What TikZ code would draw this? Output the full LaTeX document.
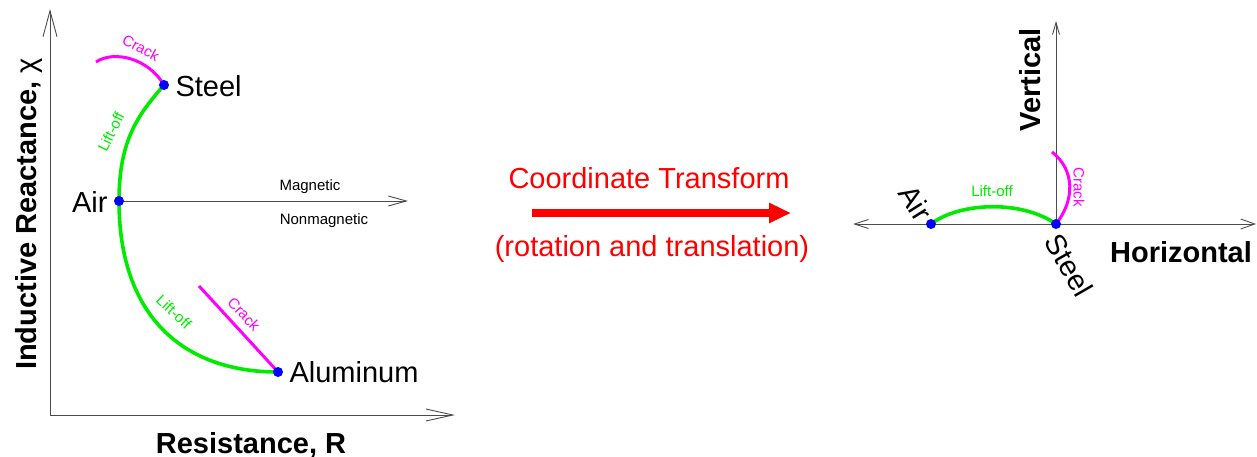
\documentclass[tikz,border=0pt]{standalone}
\usepackage{fontspec}
\setmainfont{Liberation Sans}
\usetikzlibrary{arrows.meta}
\definecolor{lgreen}{RGB}{0,235,0}
\definecolor{lmag}{RGB}{255,0,255}
\tikzset{
  axis/.style={draw=black!70, line width=0.9pt},
  big/.style={font=\fontsize{29}{34}\selectfont},
  bigb/.style={font=\fontsize{29}{34}\selectfont\bfseries},
  small/.style={font=\fontsize{15}{18}\selectfont},
  dot/.style={circle, fill=blue, inner sep=0pt, minimum size=10pt},
  lift/.style={draw=lgreen, line width=3.6pt},
  crack/.style={draw=lmag, line width=3pt},
}
\begin{document}
\begin{tikzpicture}[x=1pt,y=-1pt]
\useasboundingbox (0,0) rectangle (1257,457);
% ---------- left diagram ----------
\coordinate (O) at (50,415);
\coordinate (Ytip) at (50,9);
\coordinate (Xtip) at (455,415);
\draw[axis, -{Straight Barb[length=26pt,width=14pt]}] (O) -- (Ytip);
\draw[axis, -{Straight Barb[length=27pt,width=12pt]}] (O) -- (Xtip);

\coordinate (air) at (119,201);
\coordinate (steel) at (164,85);
\coordinate (alu) at (278,372);
\coordinate (crackTop) at (96,62);
\coordinate (crackLow) at (199,286);
\coordinate (magTip) at (408,201);

\draw[axis, -{Straight Barb[length=18pt,width=10pt]}] (air) -- (magTip);
\draw[lift] (air) .. controls (119,140) and (138,115) .. (steel);
\draw[lift] (air) .. controls (119,316) and (183,372) .. (alu);
\draw[crack] (steel) .. controls (148,58) and (114,50) .. (crackTop);
\draw[crack] (alu) -- (crackLow);

\node[dot] (airdot) at (air) {};
\node[dot] (steeldot) at (steel) {};
\node[dot] (aludot) at (alu) {};

\node[big, anchor=base east] (airlbl) at (111,212) {Air};
\node[big, anchor=base west] (steellbl) at (172,97) {Steel};
\node[big, anchor=base west] (alulbl) at (286,382) {Aluminum};
\node[small, anchor=base] (mag) at (310,190) {Magnetic};
\node[small, anchor=base] (nonmag) at (324,224) {Nonmagnetic};
\node[small, text=lmag, rotate=-28] (crack1) at (141,48) {Crack};
\node[small, text=lgreen, rotate=64] (lift1) at (111,132) {Lift-off};
\node[small, text=lgreen, rotate=-43] (lift2) at (174,312) {Lift-off};
\node[small, text=lmag, rotate=-47] (crack2) at (244,314) {Crack};

\node[bigb, rotate=90, anchor=base] (ylbl) at (36,214) {Inductive Reactance, {\mdseries χ}};
\node[bigb, anchor=base] (xlbl) at (251,453) {Resistance, R};

% ---------- middle ----------
\node[big, text=red, anchor=base] (ct) at (649,189) {Coordinate Transform};
\node[big, text=red, anchor=base] (rt) at (652,256) {(rotation and translation)};
\coordinate (arrS) at (532,213);
\coordinate (arrE) at (791,213);
\draw[red, line width=8pt, -{Triangle[length=22pt,width=19pt]}] (arrS) -- (arrE);

% ---------- right diagram ----------
\coordinate (hL) at (853,224);
\coordinate (hR) at (1256,224);
\coordinate (vO) at (1056,224);
\coordinate (vT) at (1056,21);
\draw[axis, {Straight Barb[length=14pt,width=9pt]}-{Straight Barb[length=14pt,width=10pt]}] (hL) -- (hR);
\draw[axis, -{Straight Barb[length=12pt,width=7pt]}] (vO) -- (vT);

\coordinate (air2) at (931,224);
\coordinate (steel2) at (1056,224);
\coordinate (crack2end) at (1052,152);
\draw[lift] (air2) .. controls (958,203) and (1020,199) .. (steel2);
\draw[crack] (steel2) .. controls (1075,200) and (1075,170) .. (crack2end);
\node[dot] (air2dot) at (air2) {};
\node[dot] (steel2dot) at (steel2) {};

\node[small, text=lgreen] (lift3) at (992,191) {Lift-off};
\node[small, text=lmag, rotate=-90] (crack3) at (1079,187) {Crack};
\node[big, rotate=-58] (air2lbl) at (916,203) {Air};
\node[big, rotate=-60] (steel2lbl) at (1069,265) {Steel};
\node[bigb, rotate=90, anchor=base] (vlbl) at (1040,80) {Vertical};
\node[bigb, anchor=base] (hlbl) at (1181,262) {Horizontal};
\end{tikzpicture}
\end{document}
